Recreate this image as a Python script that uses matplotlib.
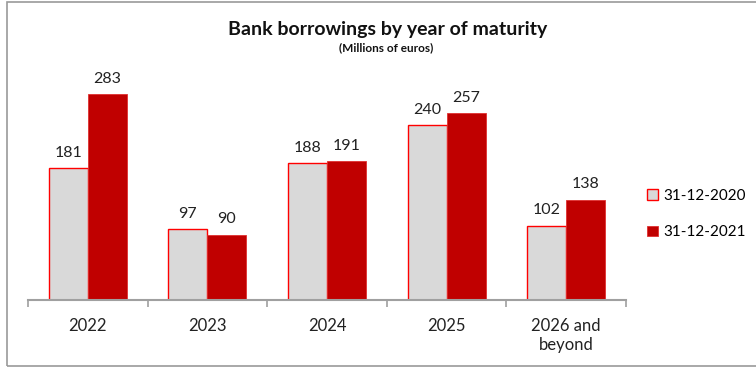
import matplotlib.pyplot as plt
from matplotlib.patches import Rectangle
import numpy as np

plt.rcParams['font.family'] = ['Lato', 'DejaVu Sans']

# --- Data ---
categories = ["2022", "2023", "2024", "2025", "2026 and\nbeyond"]
series_names = ["31-12-2020", "31-12-2021"]
values_2020 = [181, 97, 188, 240, 102]
values_2021 = [283, 90, 191, 257, 138]

fig = plt.figure(figsize=(7.56, 3.68), dpi=100)
fig.patches.append(Rectangle((7 / 756, 2 / 368), 1.1, 364 / 368, transform=fig.transFigure,
                             fill=False, edgecolor="#9a9a9a", linewidth=1.2))

ax = fig.add_axes([28 / 756, 68 / 368, 598 / 756, 240 / 368])
x = np.arange(len(categories))
w = 0.326
b1 = ax.bar(x - w / 2, values_2020, w, color="#D9D9D9", edgecolor="#FF0000", linewidth=1.0,
            label=series_names[0])
b2 = ax.bar(x + w / 2, values_2021, w, color="#C00000", edgecolor="#E03030", linewidth=0.6,
            label=series_names[1])

for bars in (b1, b2):
    for r in bars:
        ax.annotate(f"{r.get_height():.0f}", (r.get_x() + r.get_width() / 2, r.get_height()),
                    xytext=(0, 6), textcoords="offset points", ha="center", va="bottom",
                    fontsize=11.5, color="#222222")

ax.set_xlim(-0.5, len(categories) - 0.5)
ax.set_ylim(0, 330)
for s in ["top", "right", "left"]:
    ax.spines[s].set_visible(False)
ax.spines["bottom"].set_color("#a0a0a0")
ax.spines["bottom"].set_linewidth(1.5)
ax.set_yticks([])
ax.set_xticks(x)
ax.set_xticklabels(categories, fontsize=12, color="#222222")
ax.tick_params(axis="x", which="major", length=0, pad=13)
ax.set_xticks(np.arange(-0.5, len(categories)), minor=True)
ax.tick_params(axis="x", which="minor", length=5, color="#a0a0a0", width=1.2)

fig.text(0.5 * (228 + 547) / 756, 1 - 30 / 368, "Bank borrowings by year of maturity",
         ha="center", va="center", fontsize=14, fontweight="bold", color="#111111")
fig.text(0.5 * (333 + 440) / 756, 1 - 48 / 368, "(Millions of euros)",
         ha="center", va="center", fontsize=8.5, fontweight="bold", color="#111111")

fig.legend(handles=[b1, b2], labels=series_names, loc="center left",
           bbox_to_anchor=(647 / 756, 1 - 214 / 368), frameon=False, fontsize=11,
           handlelength=0.7, handleheight=0.7, handletextpad=0.35, labelspacing=1.5,
           borderaxespad=0, borderpad=0)

plt.savefig("out.png", dpi=100)
plt.close()
